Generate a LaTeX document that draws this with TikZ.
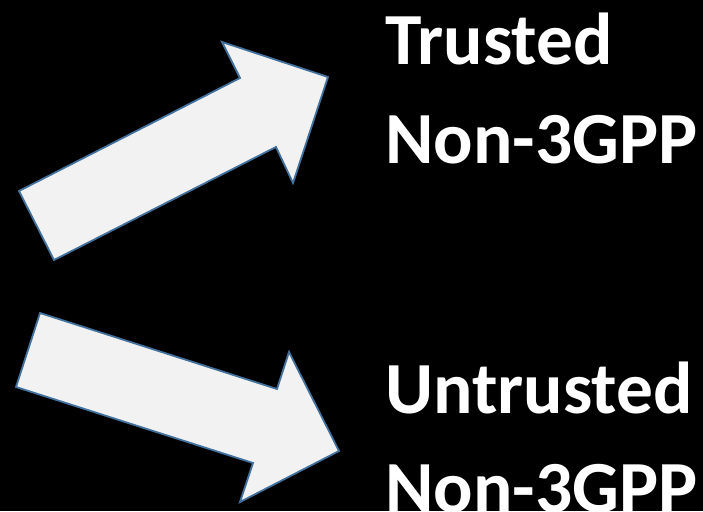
\documentclass[tikz,border=0pt]{standalone}
\usepackage{fontspec}
\setmainfont{Carlito}
\usepackage{xcolor}
\usetikzlibrary{positioning}
\definecolor{arrowfill}{RGB}{242, 242, 242}
\definecolor{arrowline}{RGB}{65, 113, 156}

\begin{document}
\begin{tikzpicture}[
    x=1pt, y=-1pt,
    blockarrow/.style={fill=arrowfill, draw=arrowline, line width=1.8pt, line join=miter},
    accesstext/.style={text=white, inner sep=0pt, align=left, font=\fontsize{73.5}{99}\selectfont\bfseries}
]
% Background
\fill[black] (0,0) rectangle (703,511);
\useasboundingbox (0,0) rectangle (703,511);

% Upper arrow -- trusted access
\draw[blockarrow] (19,191) -- (240,78) -- (222,42) -- (328,77) -- (293,183) -- (276,147) -- (54,260) -- cycle;

% Lower arrow -- untrusted access
\draw[blockarrow] (40,313) -- (277,389) -- (289,352) -- (339,451) -- (240,502) -- (253,463) -- (16,387) -- cycle;

% Access labels (anchored at the baseline of the last line)
\node[accesstext, anchor=base west] (trusted) at (385,163) {Trusted\\Non-3GPP};
\node[accesstext, anchor=base west] (untrusted) at (385,512) {Untrusted\\Non-3GPP};

\end{tikzpicture}
\end{document}
